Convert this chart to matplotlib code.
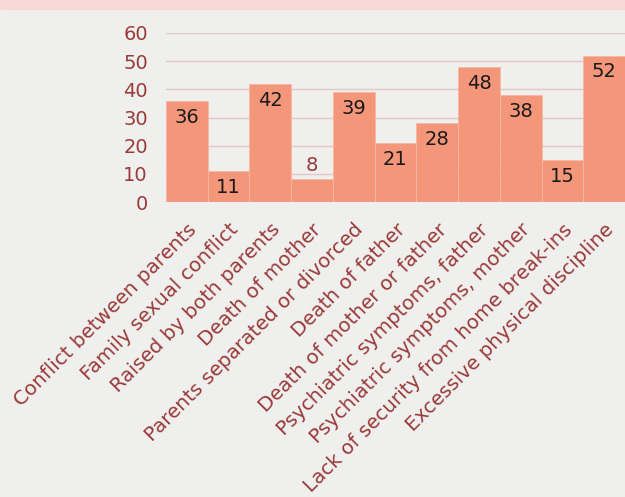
import matplotlib.pyplot as plt
from matplotlib.patches import Rectangle

categories = ['Conflict between parents', 'Family sexual conflict', 'Raised by both parents',
              'Death of mother', 'Parents separated or divorced', 'Death of father',
              'Death of mother or father', 'Psychiatric symptoms, father',
              'Psychiatric symptoms, mother', 'Lack of security from home break-ins',
              'Excessive physical discipline']
values = [36, 11, 42, 8, 39, 21, 28, 48, 38, 15, 52]
yticks = [0, 10, 20, 30, 40, 50, 60]

bar_color = '#f4967a'
text_red = '#9a3b3b'
bg = '#efefed'

plt.rcParams['font.family'] = ['DejaVu Sans']

fig = plt.figure(figsize=(6.25, 4.97), dpi=100, facecolor=bg)
fig.patches.append(Rectangle((0, 1 - 9 / 497), 1, 9 / 497, transform=fig.transFigure,
                             color='#f8d8d4', zorder=0))

ax = fig.add_axes([166 / 625, 295 / 497, 459 / 625, 169 / 497])
ax.set_facecolor('none')
x = range(len(values))
ax.bar(x, values, width=1.0, color=bar_color, edgecolor='#f6b8a4', linewidth=0.6, zorder=2)
ax.set_xlim(-0.5, len(values) - 0.5)
ax.set_ylim(0, 60)
ax.set_yticks(yticks)
ax.grid(axis='y', color='#e2c9c7', linewidth=1, zorder=0)

for i, v in enumerate(values):
    if v < 10:
        ax.annotate(str(v), (i, v), xytext=(0, 3), textcoords='offset points',
                    ha='center', va='bottom', fontsize=14, color=text_red, zorder=3)
    else:
        ax.annotate(str(v), (i, v), xytext=(0, -5), textcoords='offset points',
                    ha='center', va='top', fontsize=14, color='#1a1a1a', zorder=3)

ax.set_xticks(list(x))
ax.set_xticklabels(categories, rotation=45, ha='right', rotation_mode='anchor',
                   fontsize=14.3, color=text_red)
ax.tick_params(axis='x', length=0, pad=13)
ax.tick_params(axis='y', length=0, pad=13, labelsize=14, labelcolor=text_red)
for s in ax.spines.values():
    s.set_visible(False)

plt.savefig('out.png', dpi=100, facecolor=bg)
